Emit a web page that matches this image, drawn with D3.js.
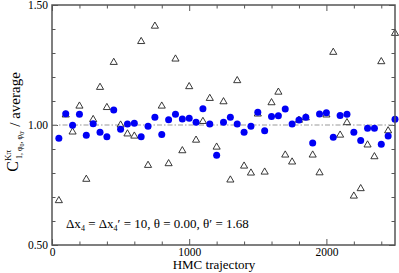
<!DOCTYPE html>
<html><head><meta charset="utf-8">
<script src="https://cdn.jsdelivr.net/npm/d3@7/dist/d3.min.js"></script>
<style>body{margin:0;background:#fff}svg{display:block}</style>
</head><body>
<svg id="c" width="399" height="273"></svg>
<script>
const trajectories = [50,100,150,200,250,300,350,400,450,500,550,600,650,700,750,800,850,900,950,1000,
  1050,1100,1150,1200,1250,1300,1350,1400,1450,1500,1550,1600,1650,1700,1750,1800,1850,1900,1950,2000,
  2050,2100,2150,2200,2250,2300,2350,2400,2450,2500];
const circleVals = [0.945,1.047,0.999,1.045,0.957,1.005,0.970,0.951,1.062,0.982,
  1.004,1.007,0.951,0.995,1.032,0.960,1.022,1.045,1.025,1.028,
  1.011,1.068,1.004,0.874,1.011,1.032,1.004,0.970,0.995,1.053,
  0.976,1.035,1.039,1.067,1.004,1.021,1.032,0.925,1.046,1.051,
  0.949,1.040,1.045,0.970,0.935,0.986,0.986,0.920,0.954,1.024];
const triangleVals = [0.685,1.042,0.971,1.079,0.774,1.023,1.157,1.073,1.261,1.000,
  0.963,0.954,1.348,0.832,1.412,1.079,0.839,1.275,0.893,1.160,
  0.937,1.015,1.111,0.908,1.097,0.771,1.185,0.829,0.800,1.046,
  0.804,1.093,1.137,0.875,0.846,1.020,1.030,0.875,0.801,1.042,
  1.303,0.958,1.010,0.704,0.735,0.917,0.868,1.264,0.976,1.382];
const xMajor = [0,1000,2000];
const xMinor = [200,400,600,800,1200,1400,1600,1800,2200,2400];
const yMajor = [0.5,1.0,1.5];
const yMinor = [0.6,0.7,0.8,0.9,1.1,1.2,1.3,1.4];
const refLine = 1.0;

const L=52,T=5,W=343,H=240;
const svg=d3.select('#c');
const g=svg.append('g').attr('transform',`translate(${L},${T})`);
const x=d3.scaleLinear().domain([0,2500]).range([0,W]);
const y=d3.scaleLinear().domain([0.5,1.5]).range([H,0]);
const font='"Liberation Serif","Times New Roman",serif';
const frame='#555';

function styleAxis(sel){
  sel.select('.domain').remove();
  sel.selectAll('line').attr('stroke',frame).attr('stroke-width',1);
  sel.selectAll('text').attr('font-family',font).attr('font-size',11.5).attr('fill','#000');
}
g.append('g').attr('transform',`translate(0,${H})`).call(d3.axisBottom(x).tickValues(xMajor).tickSize(-6).tickPadding(3).tickFormat(d3.format('d'))).call(styleAxis);
g.append('g').attr('transform',`translate(0,${H})`).call(d3.axisBottom(x).tickValues(xMinor).tickSize(-3.5).tickFormat('')).call(styleAxis);
g.append('g').call(d3.axisTop(x).tickValues(xMajor).tickSize(-6).tickFormat('')).call(styleAxis);
g.append('g').call(d3.axisTop(x).tickValues(xMinor).tickSize(-3.5).tickFormat('')).call(styleAxis);
g.append('g').call(d3.axisLeft(y).tickValues(yMajor).tickSize(-6).tickPadding(4).tickFormat(d3.format('.2f'))).call(styleAxis);
g.append('g').call(d3.axisLeft(y).tickValues(yMinor).tickSize(-3.5).tickFormat('')).call(styleAxis);
g.append('g').attr('transform',`translate(${W},0)`).call(d3.axisRight(y).tickValues(yMajor).tickSize(-6).tickFormat('')).call(styleAxis);
g.append('g').attr('transform',`translate(${W},0)`).call(d3.axisRight(y).tickValues(yMinor).tickSize(-3.5).tickFormat('')).call(styleAxis);

g.append('line').attr('x1',x(0)).attr('x2',x(2500)).attr('y1',y(refLine)).attr('y2',y(refLine))
  .attr('stroke','#999').attr('stroke-width',1.2).attr('stroke-dasharray','5,2,1.5,2');

const tri=d3.symbol().type(d3.symbolTriangle).size(22);
g.selectAll('.tri').data(trajectories).join('path').attr('class','tri')
  .attr('d',tri).attr('transform',(d,i)=>`translate(${x(d)},${y(triangleVals[i])})`)
  .attr('fill','none').attr('stroke','#222').attr('stroke-width',0.9);
g.selectAll('.dot').data(trajectories).join('circle').attr('class','dot')
  .attr('cx',d=>x(d)).attr('cy',(d,i)=>y(circleVals[i])).attr('r',3.5).attr('fill','#0000f5');

g.append('rect').attr('width',W).attr('height',H).attr('fill','none').attr('stroke',frame).attr('stroke-width',1.5);

svg.append('text').attr('x',214).attr('y',269).attr('text-anchor','middle')
  .attr('font-family',font).attr('font-size',13).text('HMC trajectory');

const ann=svg.append('text').attr('x',66).attr('y',228).attr('font-family',font).attr('font-size',13);
ann.append('tspan').text('Δx');
ann.append('tspan').attr('font-size',8).attr('dy',3).text('4');
ann.append('tspan').attr('dy',-3).text(' = Δx');
ann.append('tspan').attr('font-size',8).attr('dy',3).text('4');
ann.append('tspan').attr('dy',-3).text('′ = 10, θ = 0.00, θ′ = 1.68');

const yl=svg.append('text').attr('transform','translate(18,122) rotate(-90)').attr('text-anchor','middle')
  .attr('font-family',font).attr('font-size',15);
yl.append('tspan').attr('font-size',16).text('C');
yl.append('tspan').attr('font-size',9).attr('dy',-7).text('Kπ');
yl.append('tspan').attr('font-size',8).attr('dy',11).attr('dx',-9).text('1, φ');
yl.append('tspan').attr('font-size',6).attr('dy',2).text('0');
yl.append('tspan').attr('font-size',8).attr('dy',-2).text(', φ');
yl.append('tspan').attr('font-size',6).attr('dy',2).text('0′');
yl.append('tspan').attr('dy',-4).text('   / average');
</script>
</body></html>
